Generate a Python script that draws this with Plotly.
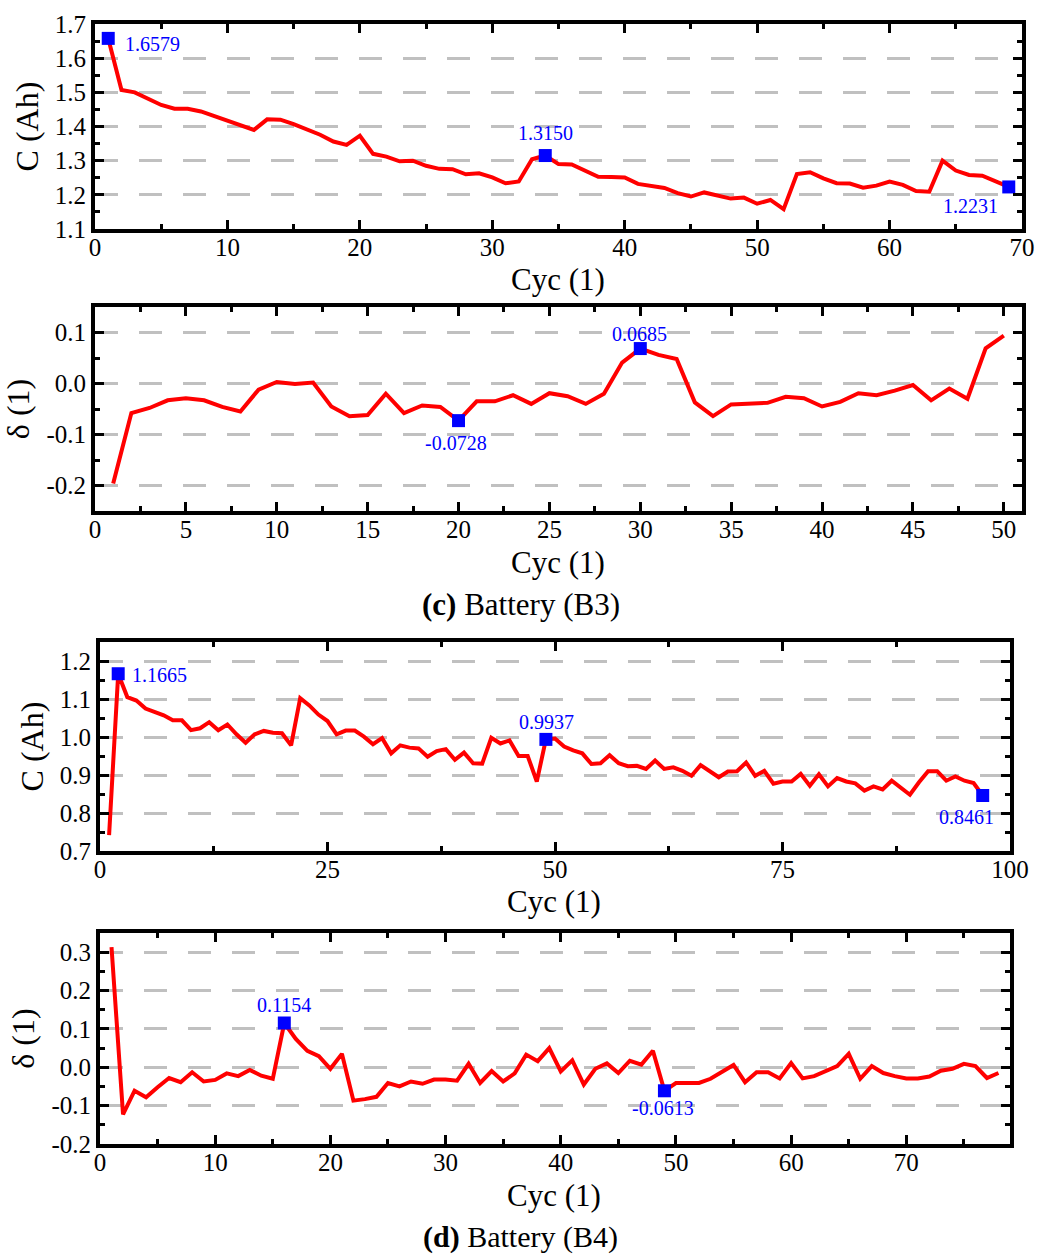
import plotly.graph_objects as go

# ---------------- data ----------------
# (c) Battery B3 : capacity C (Ah) per cycle
b3_capacity = [
    1.6579, 1.507, 1.500, 1.480, 1.463, 1.452, 1.452, 1.444, 1.431, 1.417,
    1.405, 1.390, 1.421, 1.420, 1.407, 1.393, 1.376, 1.356, 1.346, 1.373,
    1.320, 1.312, 1.298, 1.300, 1.285, 1.276, 1.275, 1.260, 1.263, 1.251,
    1.234, 1.239, 1.304, 1.3150, 1.290, 1.289, 1.270, 1.253, 1.252, 1.251,
    1.232, 1.226, 1.220, 1.205, 1.195, 1.207, 1.198, 1.189, 1.192, 1.174,
    1.185, 1.158, 1.261, 1.266, 1.248, 1.234, 1.233, 1.221, 1.227, 1.239,
    1.229, 1.211, 1.209, 1.300, 1.271, 1.258, 1.256, 1.239, 1.2231,
]
b3_capacity_cycles = list(range(1, len(b3_capacity) + 1))
b3_capacity_marked = [1, 34, 69]

# (c) Battery B3 : delta (1) per cycle
b3_delta = [
    -0.196, -0.058, -0.048, -0.033, -0.029, -0.033, -0.046, -0.055, -0.012, 0.003,
    -0.001, 0.002, -0.045, -0.064, -0.062, -0.020, -0.058, -0.043, -0.046, -0.0728,
    -0.035, -0.035, -0.023, -0.040, -0.019, -0.025, -0.040, -0.020, 0.041, 0.0685,
    0.056, 0.048, -0.037, -0.064, -0.041, -0.040, -0.038, -0.026, -0.029, -0.045,
    -0.036, -0.019, -0.023, -0.014, -0.003, -0.033, -0.010, -0.030, 0.069, 0.094,
]
b3_delta_cycles = list(range(1, len(b3_delta) + 1))
b3_delta_marked = [20, 30]

# (d) Battery B4 : capacity C (Ah) per cycle
b4_capacity = [
    0.742, 1.1665, 1.105, 1.096, 1.075, 1.065, 1.057, 1.044, 1.044, 1.018,
    1.023, 1.039, 1.018, 1.033, 1.007, 0.985, 1.007, 1.016, 1.011, 1.010,
    0.978, 1.102, 1.083, 1.059, 1.042, 1.007, 1.017, 1.017, 1.001, 0.981,
    0.997, 0.957, 0.978, 0.972, 0.970, 0.948, 0.963, 0.968, 0.940, 0.959,
    0.931, 0.930, 0.998, 0.983, 0.991, 0.950, 0.950, 0.883, 0.9937, 0.996,
    0.975, 0.965, 0.957, 0.929, 0.931, 0.952, 0.931, 0.923, 0.924, 0.916,
    0.938, 0.916, 0.920, 0.911, 0.898, 0.926, 0.911, 0.894, 0.909, 0.910,
    0.933, 0.898, 0.911, 0.877, 0.883, 0.883, 0.903, 0.872, 0.902, 0.870,
    0.892, 0.883, 0.878, 0.859, 0.870, 0.862, 0.885, 0.868, 0.848, 0.881,
    0.910, 0.910, 0.885, 0.896, 0.885, 0.879, 0.8461,
]
b4_capacity_cycles = list(range(1, len(b4_capacity) + 1))
b4_capacity_marked = [2, 49, 97]

# (d) Battery B4 : delta (1) per cycle
b4_delta = [
    0.313, -0.123, -0.061, -0.078, -0.052, -0.028, -0.039, -0.013, -0.037, -0.033,
    -0.016, -0.023, -0.007, -0.022, -0.030, 0.1154, 0.074, 0.043, 0.029, -0.004,
    0.035, -0.087, -0.083, -0.077, -0.041, -0.050, -0.037, -0.043, -0.032, -0.032,
    -0.035, 0.009, -0.041, -0.010, -0.037, -0.016, 0.033, 0.016, 0.050, -0.011,
    0.018, -0.045, -0.004, 0.010, -0.015, 0.017, 0.007, 0.043, -0.0613, -0.041,
    -0.041, -0.041, -0.030, -0.011, 0.006, -0.039, -0.013, -0.013, -0.029, 0.011,
    -0.029, -0.023, -0.009, 0.003, 0.035, -0.030, 0.003, -0.015, -0.023, -0.029,
    -0.029, -0.024, -0.009, -0.004, 0.009, 0.003, -0.028, -0.015,
]
b4_delta_cycles = list(range(1, len(b4_delta) + 1))
b4_delta_marked = [16, 49]

# tick labels
b3_cap_yticks = [1.1, 1.2, 1.3, 1.4, 1.5, 1.6, 1.7]
b3_cap_ytext = ["1.1", "1.2", "1.3", "1.4", "1.5", "1.6", "1.7"]
b3_delta_yticks = [-0.2, -0.1, 0.0, 0.1]
b3_delta_ytext = ["-0.2", "-0.1", "0.0", "0.1"]
b4_cap_yticks = [0.7, 0.8, 0.9, 1.0, 1.1, 1.2]
b4_cap_ytext = ["0.7", "0.8", "0.9", "1.0", "1.1", "1.2"]
b4_delta_yticks = [-0.2, -0.1, 0.0, 0.1, 0.2, 0.3]
b4_delta_ytext = ["-0.2", "-0.1", "0.0", "0.1", "0.2", "0.3"]

x_title = "Cyc (1)"
cap_title = "C (Ah)"
delta_title = "δ (1)"
caption_c = "<b>(c)</b> Battery (B3)"
caption_d = "<b>(d)</b> Battery (B4)"

# ---------------- styling / layout ----------------
W, H = 1038, 1256
FONT = "Liberation Serif"
RED = "#ff0000"
BLUE = "#0000ff"

panels = [
    dict(x=b3_capacity_cycles, y=b3_capacity, marked=b3_capacity_marked,
         box=(95, 1022, 24, 229), xrange=[0, 70], xdtick=10, xminor=5,
         yrange=[1.1, 1.7], yticks=b3_cap_yticks, ytext=b3_cap_ytext, ytitle=cap_title,
         xtitle_pos=(558, 279),
         labels=[("left", 15, -6), ("center", 0, 23), ("center", -38, -19)]),
    dict(x=b3_delta_cycles, y=b3_delta, marked=b3_delta_marked,
         box=(95, 1022, 307, 511), xrange=[0, 51], xdtick=5, xminor=2.5,
         yrange=[-0.25, 0.15], yticks=b3_delta_yticks, ytext=b3_delta_ytext, ytitle=delta_title,
         xtitle_pos=(558, 562),
         labels=[("center", -3, -22), ("center", -1, 15)]),
    dict(x=b4_capacity_cycles, y=b4_capacity, marked=b4_capacity_marked,
         box=(100, 1010, 642, 851), xrange=[0, 100], xdtick=25, xminor=12.5,
         yrange=[0.7, 1.25], yticks=b4_cap_yticks, ytext=b4_cap_ytext, ytitle=cap_title,
         xtitle_pos=(554, 901),
         labels=[("left", 12, -1), ("center", 1, 17), ("center", -16, -22)]),
    dict(x=b4_delta_cycles, y=b4_delta, marked=b4_delta_marked,
         box=(100, 1010, 933, 1144), xrange=[0, 79], xdtick=10, xminor=5,
         yrange=[-0.2, 0.35], yticks=b4_delta_yticks, ytext=b4_delta_ytext, ytitle=delta_title,
         xtitle_pos=(554, 1195),
         labels=[("center", 0, 18), ("center", -1, -17)]),
]

fig = go.Figure()
annotations = []
layout_axes = {}

for i, p in enumerate(panels, start=1):
    xs = "" if i == 1 else str(i)
    xref, yref = "x" + xs, "y" + xs
    x0, x1, y0, y1 = p["box"]

    fig.add_trace(go.Scatter(
        x=p["x"], y=p["y"], mode="lines", xaxis=xref, yaxis=yref,
        line=dict(color=RED, width=4), showlegend=False, hoverinfo="x+y"))

    mx = [c for c in p["marked"]]
    my = [p["y"][p["x"].index(c)] for c in p["marked"]]
    fig.add_trace(go.Scatter(
        x=mx, y=my, mode="markers", xaxis=xref, yaxis=yref,
        marker=dict(symbol="square", size=13, color=BLUE), showlegend=False))

    for (cx, cy), (anchor, dx, dy) in zip(zip(mx, my), p["labels"]):
        annotations.append(dict(
            x=cx, y=cy, xref=xref, yref=yref, text=f"{cy:.4f}", showarrow=False,
            xanchor=anchor, yanchor="middle", xshift=dx, yshift=dy,
            font=dict(family=FONT, size=20, color=BLUE)))

    # x-axis title (placed as paper text for exact position)
    tx, ty = p["xtitle_pos"]
    annotations.append(dict(
        x=tx / W, y=1 - ty / H, xref="paper", yref="paper", text=x_title,
        showarrow=False, xanchor="center", yanchor="middle",
        font=dict(family=FONT, size=31, color="black")))

    common = dict(showline=True, linecolor="black", linewidth=4, mirror="allticks",
                  ticks="inside", ticklen=9, tickwidth=3, tickcolor="black",
                  zeroline=False, automargin=False,
                  tickfont=dict(family=FONT, size=25, color="black"))

    layout_axes["xaxis" + xs] = dict(
        common, domain=[x0 / W, x1 / W], anchor=yref, range=p["xrange"],
        tickmode="linear", tick0=0, dtick=p["xdtick"], showgrid=False,
        ticklabelstandoff=-7,
        minor=dict(ticks="inside", ticklen=5, tickwidth=3, tickcolor="black",
                   dtick=p["xminor"], tick0=0, showgrid=False))
    layout_axes["yaxis" + xs] = dict(
        common, domain=[1 - y1 / H, 1 - y0 / H], anchor=xref, range=p["yrange"],
        tickmode="array", tickvals=p["yticks"], ticktext=p["ytext"],
        showgrid=True, gridcolor="#c0c0c0", gridwidth=3, griddash="23px,21px",
        minor=dict(ticks="inside", ticklen=5, tickwidth=3, tickcolor="black",
                   tickmode="linear", dtick=0.05, tick0=0, showgrid=False),
        title=dict(text=p["ytitle"], font=dict(family=FONT, size=32, color="black"), standoff=8))

annotations.append(dict(x=521 / W, y=1 - 605 / H, xref="paper", yref="paper",
                        text=caption_c, showarrow=False, xanchor="center", yanchor="middle",
                        font=dict(family=FONT, size=31, color="black")))
annotations.append(dict(x=520 / W, y=1 - 1237 / H, xref="paper", yref="paper",
                        text=caption_d, showarrow=False, xanchor="center", yanchor="middle",
                        font=dict(family=FONT, size=30, color="black")))

fig.update_layout(
    width=W, height=H, margin=dict(l=0, r=0, t=0, b=0, autoexpand=False),
    paper_bgcolor="white", plot_bgcolor="white",
    font=dict(family=FONT, color="black"),
    annotations=annotations, **layout_axes)

fig.write_html(
    "out.html",
    config={"displayModeBar": False},
    post_script="document.body.style.margin='0px';document.body.style.overflow='hidden';",
)
